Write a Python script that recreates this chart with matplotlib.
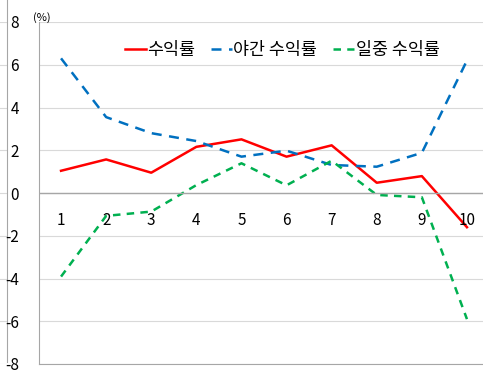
import matplotlib
matplotlib.use("Agg")
import matplotlib.pyplot as plt

plt.rcParams['font.family'] = ['Noto Sans CJK KR', 'DejaVu Sans']

# decile groups and returns (%)
groups = [1, 2, 3, 4, 5, 6, 7, 8, 9, 10]
ret_total = [1.04, 1.57, 0.95, 2.16, 2.51, 1.70, 2.23, 0.48, 0.79, -1.60]
ret_night = [6.30, 3.55, 2.80, 2.43, 1.70, 1.98, 1.31, 1.23, 1.88, 6.20]
ret_day = [-3.91, -1.07, -0.87, 0.37, 1.39, 0.36, 1.51, -0.09, -0.20, -5.90]
y_ticks = [-8, -6, -4, -2, 0, 2, 4, 6, 8]

W, H = 483, 370
fig = plt.figure(figsize=(W / 100, H / 100), dpi=100)

grid_c = "#D9D9D9"
axis_c = "#A6A6A6"

# edge of the neighbouring panel on the left
ax0 = fig.add_axes([-0.2, 1 - 364 / H, 0.2 + 7 / W, 342 / H])
ax0.set_ylim(-8, 8)
ax0.set_yticks(y_ticks)
ax0.set_xticks([])
ax0.tick_params(left=False, labelleft=False)
ax0.grid(axis="y", color=grid_c, linewidth=0.8)
for s in ("top", "bottom", "left"):
    ax0.spines[s].set_visible(False)
ax0.spines["right"].set_color(axis_c)
ax0.spines["right"].set_bounds(-7.9, 9.1)

ax = fig.add_axes([38.5 / W, 1 - 364 / H, 451 / W, 342 / H])
ax.plot(groups, ret_total, color="#FF0000", linewidth=1.8, label="수익률")
ax.plot(groups, ret_night, color="#0070C0", linewidth=1.8, linestyle=(0, (4, 3)),
        label="야간 수익률")
ax.plot(groups, ret_day, color="#00B050", linewidth=1.8, linestyle=(0, (3, 2.5)),
        label="일중 수익률")

ax.set_xlim(0.5, 10.5)
ax.set_ylim(-8, 8)
ax.set_yticks(y_ticks)
ax.set_yticklabels([str(v) for v in y_ticks], fontsize=11)
ax.set_xticks([])
ax.tick_params(axis="y", length=0, pad=14)
ax.grid(axis="y", color=grid_c, linewidth=0.8)
ax.axhline(0, color=axis_c, linewidth=1.0)

for g in groups:
    ax.text(g, -1.3, str(g), ha="center", va="center", fontsize=11)

for s in ("top", "right"):
    ax.spines[s].set_visible(False)
ax.spines["left"].set_color(axis_c)
ax.spines["bottom"].set_color(axis_c)

ax.text(0.37, 7.95, "(%)", fontsize=8, ha="left", va="bottom")

ax.legend(loc="upper center", bbox_to_anchor=(0.54, 0.99), ncol=3,
          frameon=False, fontsize=12.5, handlelength=1.2, handletextpad=0.1,
          columnspacing=0.9)

fig.savefig("out.png", dpi=100)
